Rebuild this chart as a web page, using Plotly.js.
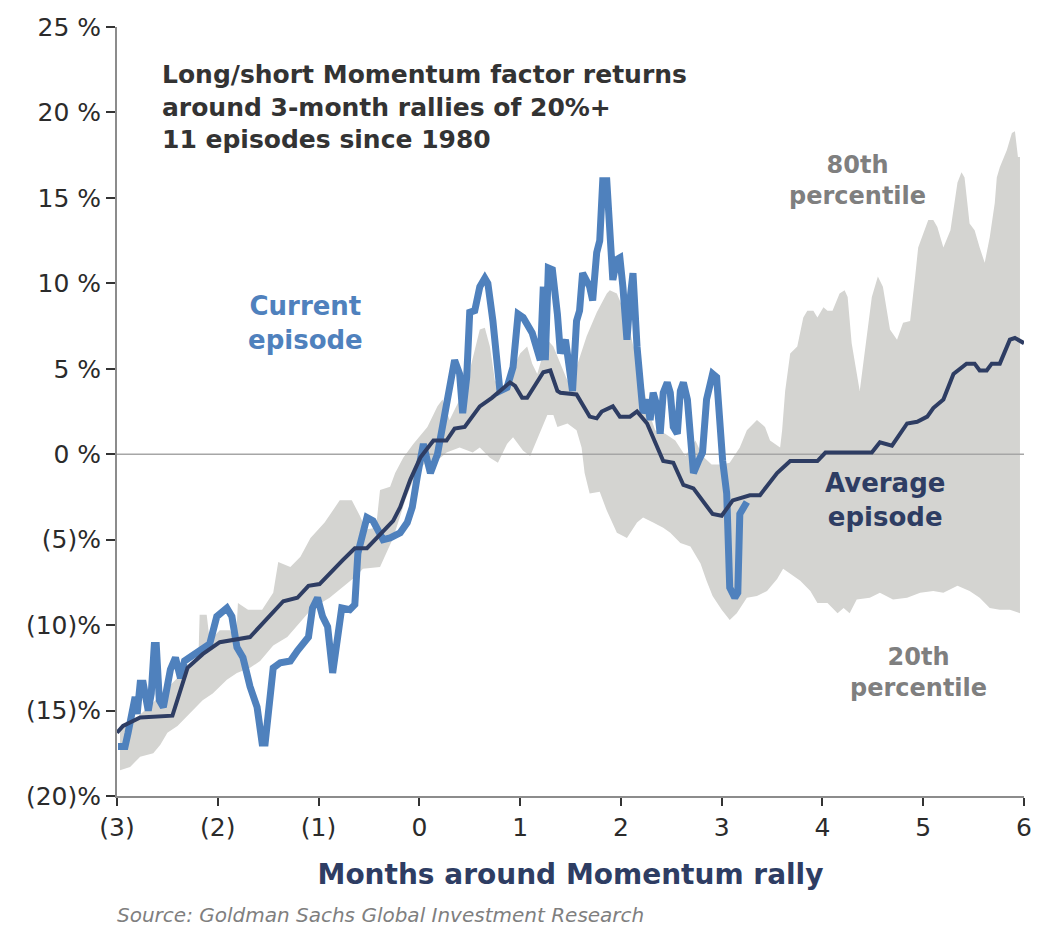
<!DOCTYPE html>
<html>
<head>
<meta charset="utf-8">
<script src="https://cdn.plot.ly/plotly-3.0.1.min.js"></script>
<style>
  html, body { margin: 0; padding: 0; background: #fff; }
  #chart { width: 1051px; height: 936px; }
</style>
</head>
<body>
<div id="chart"></div>
<script>
// axis ticks
const monthTicks = [-3, -2, -1, 0, 1, 2, 3, 4, 5, 6];
const monthLabels = ['(3)', '(2)', '(1)', '0', '1', '2', '3', '4', '5', '6'];
const pctTicks = [-20, -15, -10, -5, 0, 5, 10, 15, 20, 25];
const pctLabels = ['(20)%', '(15)%', '(10)%', '(5)%', '0 %', '5 %', '10 %', '15 %', '20 %', '25 %'];
const xRange = [-3, 6];
const yRange = [-20, 25];

// 80th percentile (top of band), months vs %
const p80X = [-2.97,-2.82,-2.67,-2.52,-2.37,-2.23,-2.19,-2.18,-2.11,-2.08,-1.98,-1.88,-1.82,-1.80,-1.70,-1.56,-1.45,-1.40,-1.28,-1.18,
  -1.08,-0.94,-0.79,-0.67,-0.59,-0.53,-0.43,-0.39,-0.29,-0.24,-0.16,-0.06,0.08,0.18,0.23,0.30,0.40,0.50,0.60,0.65,
  0.70,0.75,0.83,0.92,1.00,1.07,1.12,1.17,1.27,1.33,1.40,1.47,1.56,1.66,1.76,1.86,1.89,1.96,2.06,2.12,
  2.19,2.27,2.34,2.44,2.54,2.64,2.74,2.81,2.90,3.00,3.08,3.18,3.25,3.35,3.43,3.48,3.58,3.60,3.63,3.68,
  3.75,3.81,3.85,3.91,3.95,4.01,4.05,4.10,4.17,4.22,4.25,4.29,4.37,4.42,4.49,4.55,4.60,4.67,4.74,4.80,
  4.87,4.92,4.95,5.05,5.10,5.14,5.20,5.27,5.34,5.38,5.41,5.46,5.51,5.56,5.61,5.66,5.71,5.73,5.76,5.83,
  5.88,5.91,5.94,5.96];
const p80Y = [-16.0,-15.5,-14.7,-13.8,-12.9,-12.2,-11.5,-9.4,-9.4,-10.9,-10.3,-10.3,-10.9,-8.7,-9.1,-9.1,-8.1,-6.3,-6.6,-6.0,
  -4.9,-4.0,-2.7,-2.7,-3.6,-4.4,-4.3,-2.1,-1.9,-1.1,-0.2,0.6,1.6,2.8,3.2,2.0,3.2,4.9,7.3,7.4,
  6.3,4.3,3.9,4.9,5.9,6.3,5.3,4.7,6.7,6.3,5.3,4.3,5.1,6.9,8.3,9.4,9.6,9.4,8.0,6.4,
  5.1,2.6,1.4,1.2,0.8,-0.1,0.8,-0.1,-0.6,-0.6,-0.5,0.4,1.4,2.0,1.6,0.8,0.4,1.4,3.7,5.9,
  6.3,8.0,8.4,8.4,8.0,8.6,8.4,8.4,9.4,9.6,9.2,6.5,3.7,6.1,9.2,10.4,9.8,7.3,6.7,7.7,
  7.8,10.4,12.1,13.7,13.7,13.3,12.1,13.1,15.9,16.5,16.2,13.5,13.1,12.1,11.2,12.7,14.7,16.2,16.8,17.8,
  18.8,18.9,17.4,17.4];

// 20th percentile (bottom of band)
const p20X = [-2.97,-2.87,-2.77,-2.64,-2.57,-2.50,-2.40,-2.28,-2.15,-2.05,-1.91,-1.81,-1.68,-1.58,-1.45,-1.31,-1.18,-1.06,-0.89,-0.74,
  -0.62,-0.56,-0.39,-0.26,-0.14,-0.04,0.06,0.21,0.27,0.40,0.53,0.60,0.70,0.78,0.87,0.93,1.03,1.10,1.17,1.22,
  1.27,1.33,1.37,1.47,1.56,1.61,1.64,1.69,1.79,1.86,1.96,2.06,2.16,2.22,2.32,2.42,2.49,2.59,2.69,2.79,
  2.85,2.91,3.00,3.08,3.15,3.25,3.35,3.45,3.55,3.61,3.68,3.78,3.88,3.95,4.05,4.15,4.21,4.27,4.34,4.47,
  4.57,4.70,4.84,4.97,5.10,5.20,5.34,5.46,5.56,5.66,5.76,5.86,5.96];
const p20Y = [-18.5,-18.3,-17.7,-17.5,-17.0,-16.3,-15.9,-15.2,-14.4,-14.0,-13.2,-12.8,-12.5,-12.1,-11.2,-10.7,-9.8,-9.0,-8.4,-7.7,
  -7.1,-6.7,-6.6,-4.9,-2.7,-1.2,-0.5,-0.2,0.1,0.4,0.1,0.4,-0.2,-0.5,0.6,1.0,0.2,-0.1,0.8,1.6,
  2.3,2.3,1.6,1.8,1.4,0.4,-1.1,-2.3,-2.2,-3.3,-4.6,-4.9,-4.0,-3.7,-4.0,-4.3,-4.6,-5.2,-5.4,-6.4,
  -7.4,-8.3,-9.1,-9.7,-9.3,-8.4,-8.3,-8.0,-7.3,-6.7,-7.0,-7.4,-8.0,-8.7,-8.7,-9.3,-9.0,-9.3,-8.5,-8.4,
  -8.1,-8.5,-8.4,-8.1,-8.0,-8.1,-7.7,-8.0,-8.4,-9.0,-9.1,-9.1,-9.3];

// average episode
const avgX = [-3.00,-2.94,-2.77,-2.45,-2.30,-2.15,-1.98,-1.68,-1.35,-1.21,-1.10,-0.99,-0.76,-0.64,-0.52,-0.32,-0.26,-0.19,-0.09,0.01,
  0.11,0.14,0.27,0.35,0.45,0.60,0.72,0.80,0.90,0.95,1.02,1.07,1.17,1.23,1.30,1.37,1.40,1.56,1.69,1.76,
  1.81,1.92,1.99,2.09,2.16,2.26,2.42,2.52,2.62,2.72,2.91,3.00,3.11,3.28,3.38,3.55,3.68,3.78,3.95,4.03,
  4.17,4.49,4.57,4.69,4.84,4.94,5.04,5.10,5.20,5.30,5.43,5.51,5.56,5.63,5.68,5.76,5.86,5.91,6.00];
const avgY = [-16.3,-15.9,-15.4,-15.3,-12.5,-11.7,-11.0,-10.7,-8.6,-8.4,-7.7,-7.6,-6.2,-5.5,-5.5,-4.3,-3.9,-3.1,-1.5,-0.2,
  0.5,0.8,0.8,1.5,1.6,2.8,3.3,3.7,4.2,4.0,3.3,3.3,4.3,4.8,4.9,3.7,3.6,3.5,2.2,2.1,
  2.5,2.8,2.2,2.2,2.5,1.8,-0.4,-0.5,-1.8,-2.0,-3.5,-3.6,-2.7,-2.4,-2.4,-1.1,-0.4,-0.4,-0.4,0.1,
  0.1,0.1,0.7,0.5,1.8,1.9,2.2,2.7,3.2,4.7,5.3,5.3,4.9,4.9,5.3,5.3,6.7,6.8,6.5];

// current episode
const curX = [-2.99,-2.92,-2.89,-2.85,-2.82,-2.80,-2.77,-2.74,-2.69,-2.66,-2.63,-2.61,-2.58,-2.54,-2.47,-2.42,-2.37,-2.33,-2.28,-2.18,
  -2.08,-2.01,-1.91,-1.86,-1.81,-1.75,-1.68,-1.61,-1.56,-1.53,-1.50,-1.45,-1.38,-1.28,-1.21,-1.16,-1.10,-1.06,-1.01,-0.96,
  -0.91,-0.86,-0.82,-0.77,-0.69,-0.64,-0.61,-0.52,-0.46,-0.36,-0.29,-0.19,-0.12,-0.07,-0.02,0.04,0.08,0.11,0.18,0.23,
  0.30,0.35,0.40,0.43,0.47,0.50,0.55,0.60,0.65,0.68,0.73,0.77,0.80,0.87,0.93,0.98,1.03,1.12,1.17,1.20,
  1.23,1.25,1.28,1.32,1.37,1.40,1.45,1.48,1.52,1.56,1.59,1.62,1.69,1.72,1.76,1.79,1.82,1.86,1.89,1.92,
  1.96,1.99,2.02,2.06,2.09,2.12,2.16,2.19,2.22,2.26,2.29,2.32,2.36,2.39,2.42,2.46,2.49,2.52,2.56,2.59,
  2.62,2.66,2.69,2.72,2.77,2.81,2.85,2.91,2.95,2.98,3.01,3.05,3.08,3.13,3.16,3.18,3.23,3.25];
const curY = [-17.1,-17.1,-16.3,-14.8,-14.2,-15.2,-13.4,-13.4,-15.0,-14.0,-11.2,-11.2,-14.4,-14.8,-12.6,-11.9,-13.1,-12.1,-11.9,-11.5,
  -11.1,-9.5,-9.0,-9.5,-11.3,-11.9,-13.6,-14.8,-16.9,-16.9,-15.2,-12.5,-12.2,-12.1,-11.5,-11.1,-10.7,-9.0,-8.4,-9.5,
  -10.1,-12.8,-11.3,-9.0,-9.1,-8.8,-5.8,-3.7,-3.9,-5.0,-4.9,-4.6,-4.0,-3.1,-1.3,0.6,-0.4,-1.1,0.0,1.6,
  3.6,5.5,4.7,2.4,4.5,8.3,8.4,9.8,10.3,10.0,7.8,5.1,3.7,3.9,5.1,8.2,8.0,7.1,5.9,5.5,
  9.8,5.5,10.9,10.8,8.2,5.9,6.7,5.5,3.7,7.8,8.4,10.6,9.8,9.0,11.8,12.5,16.0,16.0,13.3,10.2,
  11.4,11.5,9.8,6.7,9.0,10.6,6.3,3.6,2.4,3.2,2.0,3.6,2.8,1.2,3.6,4.2,3.6,1.6,1.2,3.7,
  4.2,3.2,0.6,-1.1,-0.4,0.1,3.2,4.7,4.5,2.0,-0.4,-2.3,-7.8,-8.4,-8.1,-3.5,-2.9,-2.8];

const FONT = 'DejaVu Sans, Verdana, sans-serif';
const NAVY = '#2e3d63';
const BLUE = '#4f81bd';
const GREY_TXT = '#7f7f7f';

// band between the 20th and 80th percentile as one closed shape
const bandX = p80X.concat(p20X.slice().reverse());
const bandY = p80Y.concat(p20Y.slice().reverse());

const band = {
  x: bandX, y: bandY,
  mode: 'lines', fill: 'toself',
  fillcolor: '#d4d4d1', line: {width: 0, color: '#d4d4d1'},
  hoverinfo: 'skip', showlegend: false
};
const zero = {
  x: xRange, y: [0, 0],
  mode: 'lines', line: {color: '#a6a6a6', width: 1.5},
  hoverinfo: 'skip', showlegend: false
};
const current = {
  x: curX, y: curY,
  mode: 'lines', line: {color: BLUE, width: 7},
  name: 'Current episode', showlegend: false
};
const average = {
  x: avgX, y: avgY,
  mode: 'lines', line: {color: NAVY, width: 4},
  name: 'Average episode', showlegend: false
};

const labelFont = (c, s) => ({family: FONT, size: s, color: c});

const layout = {
  width: 1051, height: 936,
  margin: {l: 117, r: 27, t: 27, b: 140},
  paper_bgcolor: '#fff', plot_bgcolor: '#fff',
  font: {family: FONT, size: 25, color: '#333'},
  xaxis: {
    range: xRange, tickvals: monthTicks, ticktext: monthLabels,
    showgrid: false, zeroline: false,
    showline: true, linecolor: '#8c8c8c', linewidth: 2,
    ticks: 'outside', ticklen: 8, tickwidth: 2, tickcolor: '#333',
    tickfont: {family: FONT, size: 25, color: '#2b2b2b'},
    title: {text: '<b>Months around Momentum rally</b>', standoff: 23,
            font: {family: FONT, size: 28, color: NAVY}}
  },
  yaxis: {
    range: yRange, tickvals: pctTicks, ticktext: pctLabels,
    showgrid: false, zeroline: false,
    showline: true, linecolor: '#8c8c8c', linewidth: 2,
    ticks: 'outside', ticklen: 9, tickwidth: 2, tickcolor: '#333',
    tickfont: {family: FONT, size: 25, color: '#2b2b2b'}
  },
  annotations: [
    {x: -2.57, y: 23.2, xref: 'x', yref: 'y', xanchor: 'left', yanchor: 'top', align: 'left',
     showarrow: false, font: labelFont('#333', 25),
     text: '<b>Long/short Momentum factor returns<br>around 3-month rallies of 20%+<br>11 episodes since 1980</b>'},
    {x: -1.13, y: 7.7, xref: 'x', yref: 'y', showarrow: false, align: 'center',
     font: labelFont(BLUE, 26), text: '<b>Current<br>episode</b>'},
    {x: 4.35, y: 16.0, xref: 'x', yref: 'y', showarrow: false, align: 'center',
     font: labelFont(GREY_TXT, 24), text: '<b>80th<br>percentile</b>'},
    {x: 4.62, y: -2.7, xref: 'x', yref: 'y', showarrow: false, align: 'center',
     font: labelFont(NAVY, 26), text: '<b>Average<br>episode</b>'},
    {x: 4.95, y: -12.8, xref: 'x', yref: 'y', showarrow: false, align: 'center',
     font: labelFont(GREY_TXT, 24), text: '<b>20th<br>percentile</b>'},
    {x: -0.002, y: -0.155, xref: 'paper', yref: 'paper', xanchor: 'left', yanchor: 'middle',
     showarrow: false, font: labelFont(GREY_TXT, 20),
     text: '<i>Source: Goldman Sachs Global Investment Research</i>'}
  ]
};

Plotly.newPlot('chart', [band, zero, current, average], layout, {displayModeBar: false, staticPlot: true});
</script>
</body>
</html>
